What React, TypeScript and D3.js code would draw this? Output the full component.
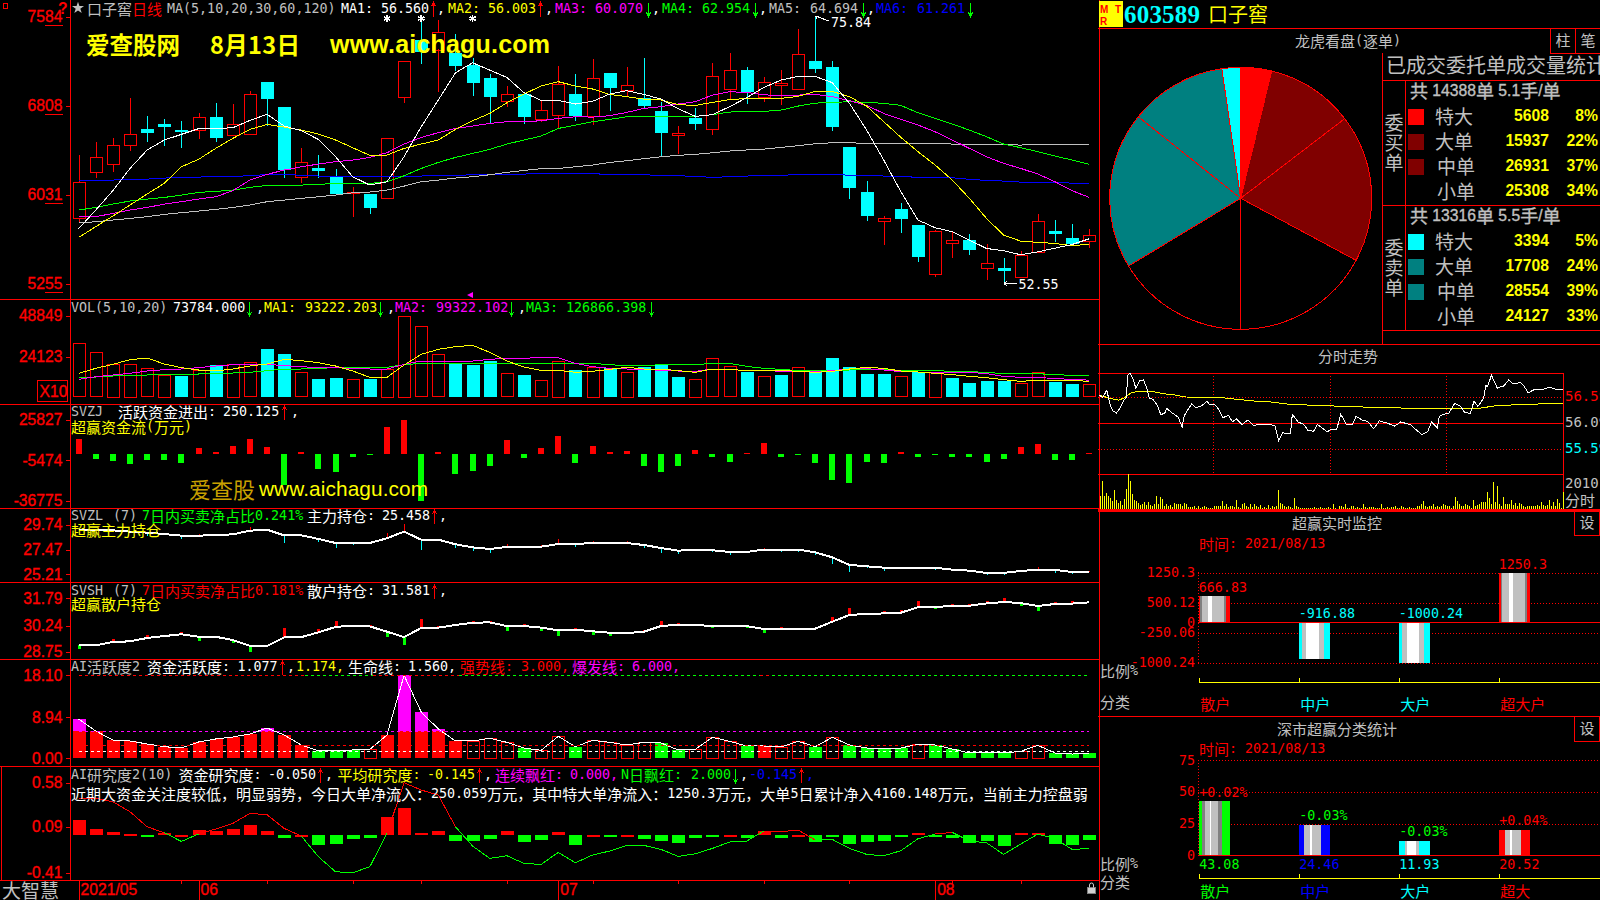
import React from "react";
import * as d3 from "d3";

const opens = [58.24,62.23,62.95,64.61,66.04,66.47,65.92,65.92,67.08,65.45,65.57,70.14,67.96,61.82,62.63,61.96,60.42,60.37,59.99,68.80,73.80,72.99,72.64,71.62,70.49,68.51,69.09,66.91,67.29,69.09,67.11,70.92,69.44,68.77,67.61,65.45,67.00,66.01,69.50,71.18,68.80,69.85,69.50,71.97,71.44,64.47,60.54,57.98,59.05,57.66,53.41,56.12,56.35,53.85,53.91,53.07,55.25,57.14,56.53,56.24];
const closes = [61.38,63.56,64.61,65.57,65.72,66.24,65.86,67.05,65.28,66.44,69.06,68.68,62.49,63.13,62.40,60.37,60.51,59.17,65.22,71.94,72.78,74.53,71.56,70.08,68.86,69.12,67.11,67.66,69.96,67.20,70.46,69.64,69.85,68.07,65.72,65.66,66.47,70.63,71.15,69.23,70.11,70.02,72.55,71.27,66.21,60.89,58.45,58.24,58.21,54.87,57.14,56.35,55.48,54.32,53.68,55.01,57.98,56.90,56.00,56.76];
const highs = [63.77,64.87,65.22,68.74,67.17,66.91,66.73,67.43,68.28,68.22,69.32,70.14,67.96,64.38,63.77,62.55,60.98,60.37,65.22,71.94,75.69,75.55,74.32,72.20,70.83,69.79,69.09,68.51,71.56,70.83,72.11,70.92,71.44,72.20,68.39,66.30,67.87,71.77,72.67,71.42,70.57,71.18,74.73,75.84,71.97,64.47,61.47,58.45,59.55,57.66,57.23,57.08,56.87,56.00,54.78,55.36,58.59,58.10,57.75,57.31];
const lows = [57.95,61.79,62.31,64.12,64.90,64.58,64.41,65.19,64.93,65.40,65.54,66.30,61.79,61.33,61.79,60.25,58.36,58.65,59.99,68.33,71.74,69.29,71.07,68.91,66.44,67.99,66.50,66.68,66.09,66.76,66.38,67.61,68.91,67.75,63.56,63.85,65.95,65.51,68.62,68.22,68.42,68.13,69.50,70.92,65.89,59.93,58.01,55.92,56.96,54.43,53.12,54.78,55.04,52.89,52.55,53.07,55.19,56.18,55.92,55.65];

const ma1 = [57.34,58.97,60.66,62.60,64.21,65.08,65.57,66.07,66.09,66.15,66.79,67.32,66.30,65.89,65.13,63.62,61.88,61.15,61.44,63.62,66.24,68.57,70.95,71.82,71.18,70.54,69.21,68.54,68.54,68.22,68.45,69.09,69.38,69.06,68.65,67.81,67.14,67.29,67.99,68.77,69.67,70.31,70.63,70.63,70.08,68.28,65.95,63.33,60.57,58.10,57.43,57.08,56.35,55.62,55.42,55.07,55.33,55.65,55.97,56.47];
const ma2 = [56.58,57.52,58.45,59.41,60.37,61.30,62.75,63.39,64.35,65.22,66.01,66.44,66.21,65.95,65.60,65.08,64.41,63.74,63.77,64.35,64.73,65.08,66.01,66.76,67.40,68.33,69.09,69.79,70.17,69.79,69.53,69.06,68.86,68.65,68.57,68.16,68.10,68.36,68.60,68.71,68.71,68.71,68.89,69.32,69.32,68.86,68.04,66.68,65.31,64.06,62.90,61.59,59.99,58.24,56.79,56.26,56.15,56.06,55.86,56.00];
const ma3 = [58.39,58.39,58.68,58.97,59.20,59.49,59.70,59.93,60.13,60.66,61.59,62.08,62.46,62.75,62.98,63.19,63.33,63.56,63.97,64.73,65.31,65.72,66.09,66.30,66.53,66.68,66.68,66.76,66.97,67.11,67.08,67.20,67.49,67.84,67.99,68.22,68.42,69.00,69.29,69.23,69.03,68.94,69.00,69.06,68.86,68.51,68.10,67.40,66.88,66.39,65.80,65.08,64.35,63.62,63.04,62.60,62.11,61.44,60.66,60.07];
const ma4 = [58.97,59.20,59.49,59.76,59.93,60.07,60.28,60.51,60.60,60.71,60.95,61.12,61.12,61.15,61.21,61.30,61.30,61.30,61.44,61.96,62.60,63.13,63.56,63.91,64.26,64.73,65.08,65.43,66.09,66.38,66.68,66.88,67.11,67.14,67.14,67.14,67.14,67.29,67.52,67.58,67.58,67.69,68.04,68.30,68.36,68.42,68.36,68.28,68.10,67.46,66.97,66.47,65.95,65.37,64.73,64.41,64.06,63.68,63.33,62.95];
const ma5 = [57.86,57.95,58.10,58.24,58.39,58.59,58.74,58.88,59.03,59.20,59.41,59.70,59.84,59.99,60.13,60.28,60.48,60.54,60.71,61.06,61.44,61.59,61.76,61.88,62.05,62.26,62.43,62.58,62.60,62.75,62.90,63.13,63.27,63.45,63.62,63.74,63.83,63.97,64.12,64.21,64.29,64.44,64.58,64.76,64.84,64.84,64.79,64.76,64.76,64.76,64.76,64.73,64.70,64.67,64.67,64.64,64.70,64.70,64.70,64.69];
const ma6 = [61.56,61.56,61.59,61.65,61.67,61.76,61.82,61.85,61.88,61.91,61.96,62.08,62.11,61.99,61.94,61.94,61.88,61.91,61.88,61.88,61.94,61.99,61.99,62.05,62.05,62.08,62.11,62.17,62.20,62.20,62.14,62.08,62.08,62.05,61.99,61.96,61.91,61.82,61.88,61.94,61.96,61.99,62.08,62.08,62.05,62.02,62.02,61.94,61.91,61.82,61.82,61.79,61.65,61.56,61.50,61.41,61.35,61.38,61.32,61.26];

const volumes = [32160,26733,19698,19698,17085,13065,12462,16080,18894,19698,20703,28743,25728,14673,10653,11256,10653,10854,16683,48843,42411,25527,20502,19296,21708,14070,13065,9849,21507,16080,18090,17085,14874,18090,19497,11859,10653,23115,18291,14874,12261,13065,17688,14874,23316,17889,13668,13668,12261,14874,15075,11256,8241,9447,9447,8040,14673,8844,7638,7378];
const volumeKinds = "rrrrrrcrcrrccrccrcrrrrcccrcrrcrcrcccrrrcrcrcccccrcrccccrrccr";
const volMa1 = [14070,17085,19497,22311,23316,19698,17487,16080,15477,16683,18492,19698,22512,21708,20502,18492,15477,11658,11658,19095,25527,28542,30150,30954,26733,21507,17889,15879,15879,14673,15276,16482,17688,16683,16683,15678,14673,16683,16281,15879,16080,15879,15276,14673,15276,16683,17688,17085,15477,14874,14070,13266,12261,11457,10251,9246,9849,9849,9648,9322];
const volMa2 = [10452,12060,13065,14070,15477,16281,16683,17487,18492,19296,19095,19497,18693,18090,17487,17487,17085,16683,16683,19497,21507,21306,21105,21507,22512,23115,23115,23718,23517,20100,18090,17085,16683,16482,15879,15477,15276,16683,16281,15879,15879,15276,15477,15075,15678,16683,16884,16080,15075,14874,14673,14673,14673,13869,12261,11658,11658,10854,10452,9932];
const volMa3 = [11658,11859,12462,12864,13065,13467,13668,13668,14070,14271,14673,15678,16683,16683,17085,17487,17688,17688,17688,19296,20100,20100,20301,20100,20100,20100,20100,20100,20100,20100,20100,19296,18693,18693,19296,19296,19296,20100,20100,18291,17085,16482,15678,15678,15678,16080,16281,16482,15678,15678,15678,15276,15075,14673,13869,13869,13869,13266,12864,12687];

const flowValues = [11330,-4450,-6000,-8330,-5225,-5225,-7555,4090,985,5640,11070,4860,-24630,985,-12210,-14540,-2900,-1345,20385,25827,-36775,985,-16090,-13760,-9880,10300,-3670,4090,13400,-7555,5640,985,1760,-9880,-14540,-9880,2535,-2900,-6780,205,7970,-2900,-1345,-7555,-20750,-23080,-6780,-7555,985,-2900,-1345,-2900,-2900,-6780,-4450,4860,7190,-5225,-5225,205];
const flowBase = -830;

const mainHold = [29.28,29.28,29.25,29.13,29.04,28.91,28.76,28.76,28.82,28.88,29.22,29.31,28.79,28.79,28.46,28.09,28.09,28.09,28.52,29.13,28.39,28.39,27.97,27.69,27.54,27.72,27.75,27.75,27.99,27.99,28.09,28.09,28.09,27.90,27.63,27.38,27.48,27.42,27.26,27.26,27.48,27.48,27.48,27.23,26.77,26.07,25.95,25.82,25.82,25.82,25.82,25.64,25.55,25.34,25.34,25.52,25.64,25.61,25.43,25.46];
const mainTip = [29.28,29.28,29.37,29.13,28.76,28.91,28.46,28.88,28.82,29.01,29.56,29.31,28.12,28.88,28.15,27.66,27.90,28.09,29.04,29.83,27.48,28.39,27.66,27.38,27.20,28.03,27.60,27.90,28.46,27.75,28.27,28.18,28.27,27.63,27.20,27.08,27.57,27.29,27.02,27.32,27.66,27.29,27.29,26.99,26.16,25.46,25.82,25.55,25.92,25.67,25.64,25.55,25.46,25.15,25.15,25.61,25.92,25.36,25.24,25.52];

const retailHold = [29.11,29.11,29.30,29.34,29.53,29.64,29.74,29.60,29.60,29.41,29.09,29.07,29.56,29.58,29.85,30.16,30.23,30.19,29.89,29.58,30.10,30.12,30.27,30.40,30.42,30.21,30.21,30.12,29.97,30.00,29.91,29.83,29.81,29.89,30.21,30.29,30.27,30.21,30.23,30.21,30.04,30.04,30.04,30.06,30.46,30.84,30.90,30.93,30.97,31.28,31.30,31.35,31.37,31.50,31.58,31.52,31.35,31.47,31.49,31.56];
const retailTip = [28.92,29.07,29.47,29.40,29.70,29.70,29.87,29.38,29.53,29.26,28.73,29.13,30.10,29.66,30.04,30.50,30.27,30.25,29.58,29.15,30.61,30.19,30.33,30.52,30.50,29.95,30.31,29.95,29.66,30.10,29.72,29.66,29.83,29.96,30.50,30.38,30.19,30.10,30.29,30.10,29.81,30.15,29.98,30.12,30.73,31.24,30.97,31.07,31.10,31.64,31.20,31.47,31.47,31.64,31.81,31.35,31.07,31.58,31.64,31.58];

const activeValues = [8.58,5.96,4.00,3.78,3.13,2.54,2.25,3.56,4.22,4.65,5.31,6.61,5.09,2.91,1.60,1.60,1.82,1.96,5.09,18.10,10.10,6.40,3.78,3.78,4.36,3.49,2.25,1.74,4.80,2.54,3.92,3.49,2.91,3.49,3.34,1.82,1.96,4.58,3.71,2.69,2.69,2.47,3.71,2.54,4.58,2.91,2.25,2.25,2.25,3.05,2.91,2.03,1.16,1.38,1.16,1.53,2.83,1.16,0.94,1.08];
const activeKindList = ["r","r","r","r","r","r","r","r","r","r","r","r","r","r","g","g","g","h","r","r","r","r","r","h","h","h","g","h","h","g","h","h","h","h","g","g","h","h","h","g","r","h","h","g","h","g","g","g","g","h","g","g","g","g","g","h","h","g","g","g"];
const strongLineRuns: [number, number, string][] = [[0,13.2,"#ff0000"],[13.2,17.2,"#00ff00"],[17.2,22.2,"#ff0000"],[22.2,39.8,"#00ff00"],[39.8,40.5,"#ff0000"],[40.5,59,"#00ff00"]];

const studyBars = [0.169,0.070,0.037,0.015,-0.018,0.026,0.002,0.059,0.051,0.070,0.114,0.048,-0.029,0.002,-0.106,-0.095,-0.040,-0.029,0.202,0.301,0.026,0.048,-0.062,-0.062,-0.040,0.048,-0.073,-0.051,0.037,-0.106,0.002,-0.018,0.002,-0.040,-0.062,-0.084,-0.029,-0.018,0.002,-0.029,0.048,-0.029,0.002,-0.073,-0.018,-0.095,-0.073,-0.062,-0.018,0.026,-0.018,-0.029,-0.084,-0.062,-0.117,0.026,0.026,-0.095,-0.106,-0.050];
const studyLine = [0.407,0.407,0.370,0.260,0.095,0.029,-0.066,0.015,0.070,0.132,0.242,0.227,0.077,-0.007,-0.235,-0.400,-0.411,-0.345,0.022,0.579,0.499,0.444,0.095,-0.117,-0.253,-0.224,-0.308,-0.319,-0.187,-0.301,-0.216,-0.172,-0.110,-0.110,-0.154,-0.231,-0.202,-0.143,-0.073,-0.062,0.048,0.040,0.059,-0.051,-0.044,-0.143,-0.209,-0.224,-0.169,-0.037,0.015,0.033,-0.062,-0.081,-0.209,-0.095,0.015,-0.037,-0.154,-0.145];

const priceTicks: [number, string][] = [[75.84,"7584"],[68.08,"6808"],[60.31,"6031"],[52.55,"5255"]];
const volTicks: [number, string][] = [[48849,"48849"],[24123,"24123"]];
const flowTicks: [number, string][] = [[25827,"25827"],[-5474,"-5474"],[-36775,"-36775"]];
const mainTicks: [number, string][] = [[29.74,"29.74"],[27.47,"27.47"],[25.21,"25.21"]];
const retailTicks: [number, string][] = [[31.79,"31.79"],[30.24,"30.24"],[28.75,"28.75"]];
const activeTicks: [number, string][] = [[18.10,"18.10"],[8.94,"8.94"],[0,"0.00"]];
const studyTicks: [number, string][] = [[0.58,"0.58"],[0.09,"0.09"],[-0.41,"-0.41"]];

const dateLabels: [number, string][] = [[0,"2021/05"],[7,"06"],[28,"07"],[50,"08"]];
const minorDateTicks = [6,11,16,20,25,30,35,40,45,51,55];
const starCandles = [18,20,23];

const buyOrders = [5608,15937,26931,25308];
const sellOrders = [3394,17708,28554,24127];
const buyPct = ["8%","22%","37%","34%"];
const sellPct = ["5%","24%","39%","33%"];
const orderLabels = ["特大","大单","中单","小单"];
const buyColors = ["#ff0000","#800000","#800000","#000000"];
const sellColors = ["#00ffff","#008080","#008080","#000000"];

const minuteTimes = [0,2,4,6,7,9,11,13,14,15,16,18,19,21,23,25,26,28,30,32,34,35,37,38,41,43,44,46,48,50,53,56,57,60,62,64,67,69,71,74,77,80,83,86,88,91,93,95,99,100,103,106,108,111,113,118,120,123,125,128,131,133,136,139,142,145,149,153,156,161,164,167,170,172,175,176,180,181,184,187,189,192,194,196,199,200,201,203,206,207,209,212,214,218,220,222,225,229,233,236,240];
const minutePrices = [56.63,56.58,56.72,56.41,56.33,56.28,56.38,56.54,56.57,57.02,57.05,56.90,56.76,56.90,56.92,56.73,56.57,56.54,56.44,56.25,56.28,56.37,56.31,56.28,56.20,56.01,56.22,56.35,56.46,56.38,56.42,56.51,56.45,56.44,56.35,56.19,56.24,56.11,56.17,56.06,56.15,56.04,56.07,56.06,56.07,56.03,55.75,55.90,55.88,56.26,56.11,56.06,55.95,55.93,56.06,55.92,55.97,55.97,56.26,56.06,56.06,56.22,56.15,56.12,55.98,56.13,56.09,56.03,56.11,56.06,55.96,55.87,55.92,56.11,56.00,56.22,56.28,56.28,56.47,56.41,56.30,56.27,56.51,56.41,56.57,56.81,56.79,57.01,56.76,56.78,56.79,56.92,56.84,56.87,56.79,56.67,56.73,56.73,56.78,56.74,56.74];
const avgTimes = [0,5,10,13,17,22,27,34,39,45,58,63,70,81,91,95,105,119,134,155,168,181,196,205,220,234,240];
const avgPrices = [56.63,56.57,56.53,56.57,56.68,56.70,56.70,56.65,56.63,56.59,56.58,56.58,56.55,56.51,56.49,56.46,56.44,56.42,56.40,56.38,56.36,56.36,56.37,56.42,56.45,56.46,56.47];
const minuteVolumes = [800,1700,800,960,800,660,500,1140,540,360,500,240,600,1200,2100,1700,900,560,500,360,240,300,400,240,440,240,200,320,760,300,700,600,200,280,200,240,120,360,280,300,320,200,360,280,100,100,100,160,80,160,60,120,160,100,80,60,40,160,160,160,200,480,160,280,120,160,160,100,560,100,60,320,360,160,120,280,120,320,160,120,240,80,120,40,240,80,160,120,160,1120,360,280,200,120,160,120,40,680,200,120,40,40,60,40,60,60,40,100,40,60,100,40,80,80,120,40,280,40,20,160,160,120,280,40,80,160,160,80,120,80,40,320,120,40,120,120,120,80,80,40,320,80,40,120,40,120,100,160,80,40,160,100,40,40,120,80,40,80,160,200,280,480,160,120,160,160,280,120,160,120,160,280,240,160,160,80,160,720,480,280,160,160,280,240,160,80,560,200,240,280,400,440,400,1040,640,320,1600,440,1360,320,160,720,280,280,320,560,240,360,160,360,320,200,120,200,160,160,160,160,240,160,440,240,160,240,560,160,440,160,600,360,40,1000];

const monitorCats = ["散户","中户","大户","超大户"];
const monitorValues = [666.83,-916.88,-1000.24,1250.3];
const monitorLabels = ["666.83","-916.88","-1000.24","1250.3"];
const monitorColors = ["#ff0000","#00ffff","#00ffff","#ff0000"];
const monitorTicks: [number, string][] = [[1250.3,"1250.3"],[500.12,"500.12"],[0,"0"],[-250.06,"-250.06"],[-1000.24,"-1000.24"]];
const monitorStripes: [string, number][][] = [
  [["#ff0000",1],["#808080",2],["#c0c0c0",6],["#ffffff",4],["#c0c0c0",12],["#808080",2],["#ff0000",3]],
  [["#00ffff",3],["#c0c0c0",4],["#ffffff",13],["#c0c0c0",5],["#00ffff",5]],
  [["#00ffff",3],["#c0c0c0",5],["#ffffff",12],["#c0c0c0",5],["#00ffff",5]],
  [["#ff0000",1.5],["#808080",1.5],["#c0c0c0",7],["#ffffff",4],["#c0c0c0",12],["#808080",2],["#ff0000",2]],
];

const shareCats = ["散户","中户","大户","超大"];
const shareValues = [43.08,24.46,11.93,20.52];
const shareChange = ["+0.02%","-0.03%","-0.03%","+0.04%"];
const shareChangeColors = ["#ff0000","#00ff00","#00ff00","#ff0000"];
const shareColors = ["#00ff00","#0000ff","#00ffff","#ff0000"];
const shareTicks = [75,50,25,0];
const shareStripes: [string, number][][] = [
  [["#00ff00",3],["#808080",3],["#c0c0c0",4.5],["#ffffff",1.5],["#c0c0c0",6.5],["#808080",4.5],["#00ff00",7]],
  [["#0000ff",5],["#c0c0c0",6],["#ffffff",2],["#c0c0c0",9],["#0000ff",8]],
  [["#00ffff",6],["#c0c0c0",2],["#ffffff",9],["#c0c0c0",3],["#00ffff",10]],
  [["#ff0000",5.3],["#c0c0c0",5.7],["#ffffff",2],["#c0c0c0",8.3],["#ff0000",8.7]],
];

const RED = "#ff0000", CYAN = "#00ffff", GREEN = "#00ff00", YELLOW = "#ffff00", MAGENTA = "#ff00ff", BLUE = "#0000ff", GRAY = "#c0c0c0", WHITE = "#ffffff";
const CJK = '"Noto Sans CJK SC"';
const MONO = '"DejaVu Sans Mono"';
const SANS = '"Liberation Sans"';

const isCJK = (c: string) => /[\u2e80-\uffef]/.test(c);
function runs(text: string) {
  const out: { t: string; cjk: boolean }[] = [];
  for (const c of text) {
    const k = isCJK(c);
    if (out.length && out[out.length - 1].cjk === k) out[out.length - 1].t += c;
    else out.push({ t: c, cjk: k });
  }
  return out;
}

function T({ x, y, text, fill = GRAY, size = 15, latin = 13.33, anchor = "start", family = MONO, weight = 400, heavy = false }: any) {
  const stroke = heavy ? { stroke: fill, strokeWidth: 0.35 } : {};
  return (
    <text x={x} y={y - 1.7} fill={fill} textAnchor={anchor} dominantBaseline="central" fontSize={size} fontFamily={CJK} style={{ whiteSpace: "pre" }} {...stroke}>
      {runs(text).map((r, i) => r.cjk
        ? <tspan key={i} fontFamily={CJK} fontSize={size}>{r.t}</tspan>
        : <tspan key={i} fontFamily={family} fontWeight={weight} fontSize={latin}>{r.t}</tspan>)}
    </text>
  );
}

const crisp = { shapeRendering: "crispEdges" as const };
const H = ({ x1, x2, y, c = RED, w = 1, dash }: any) => <line x1={x1} x2={x2} y1={y} y2={y} stroke={c} strokeWidth={w} strokeDasharray={dash} {...crisp} />;
const V = ({ x, y1, y2, c = RED, w = 1, dash }: any) => <line x1={x} x2={x} y1={y1} y2={y2} stroke={c} strokeWidth={w} strokeDasharray={dash} {...crisp} />;

const Arrow = ({ x, y, up, c }: { x: number; y: number; up: boolean; c: string }) => {
  const cx = Math.round(x) + 0.5;
  const tip = up ? y - 7 : y + 7;
  const back = up ? tip + 4 : tip - 4;
  return <path d={`M${cx},${y - 7} V${y + 7} M${cx - 2},${back} L${cx},${tip} L${cx + 2},${back}`} fill="none" stroke={c} {...crisp} />;
};

type Piece = [number, string, string];
const Row = ({ y, pieces }: { y: number; pieces: Piece[] }) => (
  <>{pieces.map((p, i) => (p[1] === "↑" || p[1] === "↓")
    ? <Arrow key={i} x={p[0] + 3} y={y} up={p[1] === "↑"} c={p[2]} />
    : <T key={i} x={p[0]} y={y} text={p[1]} fill={p[2]} />)}</>
);

const idx = d3.range(60);
const xs = d3.scaleLinear().domain([0, 59]).range([78.6, 1089.3]);
const yPrice = d3.scaleLinear().domain([52.55, 75.84]).range([283.67, 16.67]);
const yVol = d3.scaleLinear().domain([0, 48849]).range([396.67, 315.67]);
const yFlow = d3.scaleLinear().domain([-36775, 25827]).range([500.67, 420]);
const yMain = d3.scaleLinear().domain([25.21, 29.74]).range([574.33, 525]);
const yRetail = d3.scaleLinear().domain([28.75, 31.79]).range([651.67, 598.33]);
const yActive = d3.scaleLinear().domain([0, 18.1]).range([758.33, 675.33]);
const yStudy = d3.scaleLinear().domain([-0.41, 0.58]).range([872.67, 782.67]);

const seriesPath = (vals: number[], y: any) =>
  d3.line<number>().x((_, i) => xs(i)).y((v) => y(v))(vals) as string;

const AxisLabels = ({ ticks, y, underline }: { ticks: [number, string][]; y: any; underline?: boolean }) => (
  <>
    {ticks.map(([v, s], i) => (
      <g key={i}>
        <T x={62.5} y={y(v) + 0.9} text={s} fill={RED} latin={15.7} anchor="end" family={SANS} heavy />
        <H x1={66} x2={70} y={Math.round(y(v)) + 0.5} />
        {underline && <H x1={45} x2={62.5} y={Math.round(y(v)) + 8.5} />}
      </g>
    ))}
  </>
);

const Stripes = ({ x, y0, y1, stripes }: { x: number; y0: number; y1: number; stripes: [string, number][] }) => {
  let cur = x;
  return (
    <>
      {stripes.map(([c, w], i) => {
        const r = <rect key={i} x={cur} y={Math.min(y0, y1)} width={w + 0.2} height={Math.abs(y1 - y0)} fill={c} {...crisp} />;
        cur += w;
        return r;
      })}
    </>
  );
};

function MainChart() {
  const maLines: [number[], string][] = [[ma6, BLUE], [ma5, GRAY], [ma4, GREEN], [ma3, MAGENTA], [ma2, YELLOW], [ma1, WHITE]];
  return (
    <g>
      {idx.map((i) => {
        const up = closes[i] >= opens[i];
        const x = xs(i);
        const top = yPrice(Math.max(opens[i], closes[i]));
        const bot = yPrice(Math.min(opens[i], closes[i]));
        const cx = Math.round(x) + 0.5;
        if (up) {
          return (
            <g key={i}>
              <V x={cx} y1={yPrice(highs[i])} y2={top} />
              <V x={cx} y1={bot} y2={yPrice(lows[i])} />
              <rect x={cx - 6} y={Math.round(top) + 0.5} width={12} height={Math.max(1, Math.round(bot - top))} fill="none" stroke={RED} {...crisp} />
            </g>
          );
        }
        return (
          <g key={i}>
            <V x={cx} y1={yPrice(highs[i])} y2={yPrice(lows[i])} c={CYAN} />
            <rect x={cx - 6.5} y={top} width={13} height={Math.max(1.5, bot - top)} fill={CYAN} {...crisp} />
          </g>
        );
      })}
      {maLines.map(([vals, c], i) => <path key={i} d={seriesPath(vals, yPrice)} fill="none" stroke={c} {...crisp} />)}
      {starCandles.map((i) => (
        <path key={i} transform={`translate(${xs(i)},18.5)`} d={d3.symbol(d3.symbolAsterisk, 36)() as string} stroke={WHITE} strokeWidth={1.6} fill="none" {...crisp} />
      ))}
      <path d={`M${xs(43)},16 L829,21 M${xs(43)},16 l4,0 M${xs(43)},16 l2,3`} stroke={WHITE} fill="none" {...crisp} />
      <T x={831} y={23.5} text="75.84" fill={WHITE} />
      <path d={`M${xs(54)},283.5 H1017 M${xs(54)},283.5 l3,-2 M${xs(54)},283.5 l3,2`} stroke={WHITE} fill="none" {...crisp} />
      <T x={1018.5} y={285.5} text="52.55" fill={WHITE} />
      <path d="M467,295 L473,292 L473,298 Z" fill={MAGENTA} />
      <AxisLabels ticks={priceTicks} y={yPrice} underline />
      <text x={86} y={44} dominantBaseline="central" fontFamily={CJK} fontWeight={700} fontSize={23.5} fill={YELLOW}>爱查股网</text>
      <text x={210} y={44} dominantBaseline="central" fontFamily={CJK} fontWeight={700} fontSize={23.5} fill={YELLOW} textLength={90}>8月13日</text>
      <text x={330} y={44} dominantBaseline="central" fontFamily={SANS} fontWeight={700} fontSize={25} fill={YELLOW} textLength={220}>www.aichagu.com</text>
    </g>
  );
}

function VolumePanel() {
  return (
    <g>
      {idx.map((i) => {
        const x = Math.round(xs(i)) + 0.5;
        const t = yVol(volumes[i]), b = yVol(0);
        return volumeKinds[i] === "r"
          ? <rect key={i} x={x - 6} y={Math.round(t) + 0.5} width={12} height={Math.round(b - t)} fill="none" stroke={RED} {...crisp} />
          : <rect key={i} x={x - 6.5} y={t} width={13} height={b - t + 0.5} fill={CYAN} {...crisp} />;
      })}
      {([[volMa3, GREEN], [volMa2, MAGENTA], [volMa1, YELLOW]] as [number[], string][]).map(([v, c], i) => (
        <path key={i} d={seriesPath(v, yVol)} fill="none" stroke={c} {...crisp} />
      ))}
      <AxisLabels ticks={volTicks} y={yVol} />
      <rect x={37.5} y={380.5} width={30} height={21} fill="none" stroke={RED} {...crisp} />
      <T x={39.5} y={392.5} text="X10" fill={RED} latin={15.7} family={SANS} heavy />
    </g>
  );
}

function FlowPanel() {
  return (
    <g>
      {idx.map((i) => {
        const v = flowValues[i];
        const a = yFlow(v), b = yFlow(flowBase);
        return <rect key={i} x={Math.round(xs(i)) - 3} y={Math.min(a, b)} width={6} height={Math.max(1, Math.abs(a - b))} fill={v >= flowBase ? RED : GREEN} {...crisp} />;
      })}
      <AxisLabels ticks={flowTicks} y={yFlow} />
      <text x={189} y={488} dominantBaseline="central" fontFamily={CJK} fontSize={22} fill="#c8a000">爱查股</text>
      <text x={259} y={488} dominantBaseline="central" fontFamily={SANS} fontSize={20.8} fill={YELLOW} textLength={169}>www.aichagu.com</text>
    </g>
  );
}

function HoldPanel({ line, tip, y, upColor, downColor, stick, ticks }: any) {
  return (
    <g>
      {idx.map((i) => {
        if (tip[i] === line[i]) return null;
        const a = y(tip[i]), b = y(line[i]);
        return <rect key={i} x={Math.round(xs(i)) - stick / 2 + (stick === 1 ? 0.5 : 0)} y={Math.min(a, b)} width={stick} height={Math.abs(a - b)} fill={tip[i] > line[i] ? upColor : downColor} {...crisp} />;
      })}
      <path d={seriesPath(line, y)} fill="none" stroke={WHITE} strokeWidth={2} {...crisp} />
      <AxisLabels ticks={ticks} y={y} />
    </g>
  );
}

function ActivePanel() {
  const base = yActive(0);
  return (
    <g>
      {idx.map((i) => {
        const x = Math.round(xs(i)) + 0.5;
        const v = activeValues[i], t = yActive(v), k = activeKindList[i];
        if (k === "h") return <rect key={i} x={x - 6} y={Math.round(t) + 0.5} width={12} height={Math.round(base - t)} fill="none" stroke={RED} {...crisp} />;
        if (k === "g") return <rect key={i} x={x - 6.5} y={t} width={13} height={base - t} fill={GREEN} {...crisp} />;
        const cap = yActive(Math.min(v, 6));
        return (
          <g key={i}>
            {v > 6 && <rect x={x - 6.5} y={t} width={13} height={cap - t} fill={MAGENTA} {...crisp} />}
            <rect x={x - 6.5} y={cap} width={13} height={base - cap} fill={RED} {...crisp} />
          </g>
        );
      })}
      <path d={seriesPath(activeValues, yActive)} fill="none" stroke={WHITE} {...crisp} />
      <H x1={xs(0)} x2={xs(59)} y={Math.round(yActive(1.56)) + 0.5} c={WHITE} dash="3 3" />
      <H x1={xs(0)} x2={xs(59)} y={Math.round(yActive(2.85)) + 0.5} c={RED} dash="3 3" />
      <H x1={xs(0)} x2={xs(59)} y={Math.round(yActive(6)) + 0.5} c={MAGENTA} dash="3 3" />
      {strongLineRuns.map(([a, b, c], i) => <H key={i} x1={xs(a)} x2={xs(b)} y={Math.round(yActive(18.1)) + 0.5} c={c} dash="3 3" />)}
      <AxisLabels ticks={activeTicks} y={yActive} />
    </g>
  );
}

function StudyPanel() {
  const zero = yStudy(0);
  return (
    <g>
      {idx.map((i) => {
        const v = studyBars[i], a = yStudy(v);
        return <rect key={i} x={Math.round(xs(i)) - 6} y={Math.min(a, zero)} width={13} height={Math.max(1.5, Math.abs(a - zero))} fill={v >= 0 ? RED : GREEN} {...crisp} />;
      })}
      {d3.range(59).map((i) => {
        const m = (studyLine[i] + studyLine[i + 1]) / 2;
        return <line key={i} x1={xs(i)} x2={xs(i + 1)} y1={yStudy(studyLine[i])} y2={yStudy(studyLine[i + 1])} stroke={m >= 0 ? RED : GREEN} {...crisp} />;
      })}
      <AxisLabels ticks={studyTicks} y={yStudy} />
    </g>
  );
}

const LeftHeaders = () => (
  <>
    <rect x={3.5} y={3.5} width={4} height={5} fill="none" stroke={RED} {...crisp} />
    <T x={58} y={10} text="?" fill={RED} latin={15.7} family={SANS} weight={700} />
    <path transform="translate(78,8)" d={d3.symbol(d3.symbolStar, 45)() as string} fill={GRAY} />
    <Row y={9.5} pieces={[
      [87,"口子窖",GRAY],[132,"日线",RED],[167,"MA(5,10,20,30,60,120)",GRAY],
      [341,"MA1:",WHITE],[381,"56.560",WHITE],[430,"↑",RED],[437,",",WHITE],
      [448,"MA2:",YELLOW],[488,"56.003",YELLOW],[537,"↑",RED],[545,",",WHITE],
      [555,"MA3:",MAGENTA],[595,"60.070",MAGENTA],[645,"↓",GREEN],[652,",",WHITE],
      [662,"MA4:",GREEN],[702,"62.954",GREEN],[752,"↓",GREEN],[759,",",WHITE],
      [769,"MA5:",GRAY],[810,"64.694",GRAY],[860,"↓",GREEN],[867,",",WHITE],
      [876,"MA6:",BLUE],[917,"61.261",BLUE],[967,"↓",GREEN],
    ]} />
    <Row y={309} pieces={[
      [71,"VOL(5,10,20)",GRAY],[173,"73784.000",WHITE],[246,"↓",GREEN],[256,",",WHITE],
      [264,"MA1:",YELLOW],[305,"93222.203",YELLOW],[377,"↓",GREEN],[387,",",WHITE],
      [395,"MA2:",MAGENTA],[436,"99322.102",MAGENTA],[508,"↓",GREEN],[518,",",WHITE],
      [526,"MA3:",GREEN],[566,"126866.398",GREEN],[648,"↓",GREEN],
    ]} />
    <Row y={413} pieces={[[71,"SVZJ",GRAY],[118,"活跃资金进出:",WHITE],[223,"250.125",WHITE],[281,"↑",RED],[291,",",WHITE]]} />
    <Row y={428} pieces={[[71,"超赢资金流(万元)",YELLOW]]} />
    <Row y={517} pieces={[[71,"SVZL",GRAY],[113,"(7)",GRAY],[142,"7日内买卖净占比0.241%",GREEN],[307,"主力持仓:",WHITE],[382,"25.458",WHITE],[431,"↑",RED],[439,",",WHITE]]} />
    <Row y={531} pieces={[[71,"超赢主力持仓",YELLOW]]} />
    <Row y={592} pieces={[[71,"SVSH",GRAY],[113,"(7)",GRAY],[142,"7日内买卖净占比0.181%",RED],[307,"散户持仓:",WHITE],[382,"31.581",WHITE],[431,"↑",RED],[439,",",WHITE]]} />
    <Row y={605} pieces={[[71,"超赢散户持仓",YELLOW]]} />
    <Row y={668} pieces={[
      [71,"AI活跃度2",GRAY],[147,"资金活跃度:",WHITE],[237.5,"1.077",WHITE],[279,"↑",RED],[287,",",WHITE],
      [296,"1.174,",YELLOW],[348,"生命线:",WHITE],[408,"1.560,",WHITE],[460,"强势线:",RED],[521,"3.000,",RED],
      [572,"爆发线:",MAGENTA],[632,"6.000,",MAGENTA],
    ]} />
    <Row y={776} pieces={[
      [71,"AI研究度2(10)",GRAY],[178.6,"资金研究度:",WHITE],[268,"-0.050",WHITE],[317,"↑",RED],[325,",",WHITE],
      [337.5,"平均研究度:",YELLOW],[427,"-0.145",YELLOW],[476,"↑",RED],[484,",",WHITE],
      [495,"连续飘红:",MAGENTA],[570,"0.000,",MAGENTA],[621,"N日飘红:",GREEN],[691,"2.000",GREEN],[732,"↓",GREEN],[740,",",WHITE],
      [749,"-0.145",BLUE],[798,"↑",RED],[806,",",BLUE],
    ]} />
    <Row y={795} pieces={[[71,"近期大资金关注度较低，明显弱势，今日大单净流入：250.059万元，其中特大单净流入：1250.3万元，大单5日累计净入4160.148万元，当前主力控盘弱",WHITE]]} />
  </>
);

const DateRow = () => (
  <>
    {dateLabels.map(([i, s]) => (
      <g key={s}>
        <V x={Math.round(xs(i)) + 0.5} y1={880} y2={900} />
        <T x={xs(i) + 2} y={891} text={s} fill={RED} latin={15.7} family={SANS} heavy />
      </g>
    ))}
    {minorDateTicks.map((i) => <V key={i} x={Math.round(xs(i)) + 0.5} y1={880} y2={884} />)}
    <T x={2} y={891} text="大智慧" fill={GRAY} size={19} />
    <rect x={1087.5} y={887.5} width={8} height={6} fill="#d0d0d0" stroke="#808080" {...crisp} />
    <path d="M1089.5,887.5 V885 a2,2 0 0 1 4,0 V887.5" fill="none" stroke="#d0d0d0" />
  </>
);

function OrderPie() {
  const values = [...buyOrders, ...[...sellOrders].reverse()];
  const colors = [...buyColors, ...[...sellColors].reverse()];
  const arcs = d3.pie<number>().sort(null).value((v) => v)(values);
  const arc = d3.arc<any>().innerRadius(0).outerRadius(131);
  return (
    <g transform="translate(1240.7,198.3)">
      {arcs.map((a, i) => <path key={i} d={arc(a) as string} fill={colors[i]} stroke={RED} {...crisp} />)}
    </g>
  );
}

function OrderTable() {
  const rowGroup = (y0: number, header: string, values: number[], pct: string[], colors: string[]) => (
    <g>
      <T x={1410} y={y0} text={header} fill={GRAY} size={18} latin={15.7} family={SANS} heavy />
      {values.map((v, i) => {
        const y = y0 + 24.5 + i * 25;
        return (
          <g key={i}>
            {colors[i] !== "#000000" && <rect x={1408} y={y - 8} width={16} height={16} fill={colors[i]} {...crisp} />}
            <T x={i > 1 ? 1437 : 1435} y={y} text={orderLabels[i]} fill={GRAY} size={19} />
            <T x={1549} y={y} text={String(v)} fill={YELLOW} latin={15.7} anchor="end" family={SANS} weight={700} />
            <T x={1598} y={y} text={pct[i]} fill={YELLOW} latin={15.7} anchor="end" family={SANS} weight={700} />
          </g>
        );
      })}
    </g>
  );
  return (
    <g>
      <V x={1382.5} y1={53} y2={344} />
      <V x={1405.5} y1={80} y2={330} />
      <H x1={1382} x2={1600} y={80.5} />
      <H x1={1382} x2={1600} y={205.5} />
      <H x1={1382} x2={1600} y={330.5} />
      <T x={1386} y={66} text="已成交委托单成交量统计" fill={GRAY} size={20} />
      {["委","买","单"].map((c, i) => <T key={i} x={1394} anchor="middle" y={123 + i * 20} text={c} fill={GRAY} size={19} />)}
      {["委","卖","单"].map((c, i) => <T key={i} x={1394} anchor="middle" y={248 + i * 20} text={c} fill={GRAY} size={19} />)}
      {rowGroup(92, "共 14388单 5.1手/单", buyOrders, buyPct, buyColors)}
      {rowGroup(217, "共 13316单 5.5手/单", sellOrders, sellPct, sellColors)}
    </g>
  );
}

function Intraday() {
  const xm = d3.scaleLinear().domain([0, 240]).range([1099, 1563]);
  const yp = d3.scaleLinear().domain([55.59, 56.59]).range([449, 397]);
  const xv = d3.scaleLinear().domain([0, minuteVolumes.length - 1]).range([1100, 1563]);
  const yv = d3.scaleLinear().domain([0, 2100]).range([509, 474]);
  const line = d3.line<number>().x((_, i) => xm(minuteTimes[i])).y((v) => yp(v));
  const avg = d3.line<number>().x((_, i) => xm(avgTimes[i])).y((v) => yp(v));
  return (
    <g>
      <T x={1348} y={357} text="分时走势" fill={GRAY} anchor="middle" />
      <H x1={1098} x2={1563} y={373.5} />
      <V x={1563.5} y1={373} y2={509} />
      <H x1={1098} x2={1563} y={397.5} dash="1 2" />
      <H x1={1098} x2={1563} y={423.5} />
      <H x1={1098} x2={1563} y={449.5} dash="1 2" />
      <H x1={1098} x2={1563} y={474.5} />
      <H x1={1098} x2={1600} y={509.5} w={2} />
      {[1213.5, 1330.5, 1446.5].map((x) => <V key={x} x={x} y1={373} y2={474} dash="1 2" />)}
      {minuteVolumes.map((v, i) => <V key={i} x={Math.round(xv(i)) + 0.5} y1={yv(v)} y2={509} c={YELLOW} />)}
      <path d={avg(avgPrices) as string} fill="none" stroke={YELLOW} strokeWidth={1} {...crisp} />
      <path d={line(minutePrices) as string} fill="none" stroke={WHITE} {...crisp} />
      <T x={1565} y={398} text="56.59" fill={RED} latin={14} />
      <T x={1565} y={424} text="56.09" fill={GRAY} latin={14} />
      <T x={1565} y={450} text="55.59" fill={CYAN} latin={14} />
      <T x={1565} y={485} text="2010" fill={GRAY} latin={14} />
      <T x={1565} y={501} text="分时" fill={GRAY} />
    </g>
  );
}

const xCat = d3.scalePoint<string>().domain(monitorCats).range([1199.3, 1499.3]);

function Monitor() {
  const y = d3.scaleLinear().domain([-1000.24, 1250.3]).range([662.7, 572.7]);
  return (
    <g>
      <H x1={1098} x2={1600} y={511.5} />
      <T x={1337} y={524} text="超赢实时监控" fill={GRAY} anchor="middle" />
      <rect x={1574.5} y={511.5} width={25} height={24} fill="none" stroke={RED} {...crisp} />
      <T x={1587} y={523} text="设" fill={GRAY} anchor="middle" />
      <T x={1199} y={545} text="时间: 2021/08/13" fill={RED} />
      {monitorTicks.map(([v, s]) => (
        <g key={s}>
          {v !== 0 && <H x1={1198} x2={1600} y={Math.round(y(v)) + 0.5} dash="1 2" />}
          <T x={1195} y={y(v) + 1} text={s} fill={RED} anchor="end" />
        </g>
      ))}
      <V x={1198.5} y1={572} y2={663} dash="1 2" />
      {monitorCats.map((c, i) => (
        <g key={c}>
          <Stripes x={xCat(c) as number} y0={y(0)} y1={y(monitorValues[i])} stripes={monitorStripes[i]} />
          <T x={(xCat(c) as number) - 0.5} y={monitorValues[i] > 0 ? y(monitorValues[i]) - 7 : 615} text={monitorLabels[i]} fill={monitorColors[i]} />
          <T x={(xCat(c) as number) + 1} y={705} text={c} fill={monitorColors[i]} />
          <V x={Math.round(xCat(c) as number) + 0.5} y1={678} y2={682} c={YELLOW} />
        </g>
      ))}
      <H x1={1198} x2={1600} y={622.5} />
      <H x1={1199} x2={1600} y={682.5} c={YELLOW} />
      <T x={1100} y={672} text="比例%" fill={GRAY} />
      <T x={1100} y={703} text="分类" fill={GRAY} />
    </g>
  );
}

function ShareStats() {
  const y = d3.scaleLinear().domain([0, 75]).range([855.7, 760.3]);
  return (
    <g>
      <H x1={1098} x2={1600} y={716.5} />
      <T x={1337} y={730} text="深市超赢分类统计" fill={GRAY} anchor="middle" />
      <rect x={1574.5} y={716.5} width={25} height={25} fill="none" stroke={RED} {...crisp} />
      <T x={1587} y={729} text="设" fill={GRAY} anchor="middle" />
      <T x={1199} y={750} text="时间: 2021/08/13" fill={RED} />
      {shareTicks.map((v) => (
        <g key={v}>
          {v !== 0 && <H x1={1198} x2={1600} y={Math.round(y(v)) + 0.5} dash="1 2" />}
          <T x={1195} y={y(v) + 1} text={String(v)} fill={RED} anchor="end" />
        </g>
      ))}
      <V x={1198.5} y1={760} y2={855} dash="1 2" />
      {shareCats.map((c, i) => {
        const x = xCat(monitorCats[i]) as number;
        return (
          <g key={c}>
            <Stripes x={x} y0={y(0)} y1={y(shareValues[i])} stripes={shareStripes[i]} />
            <T x={x} y={y(shareValues[i]) - 7.5} text={shareChange[i]} fill={shareChangeColors[i]} />
            <T x={x} y={866} text={shareValues[i].toFixed(2)} fill={shareColors[i]} />
            <T x={x + 1} y={892} text={c} fill={shareColors[i]} />
            <V x={Math.round(x) + 0.5} y1={874} y2={878} c={YELLOW} />
          </g>
        );
      })}
      <H x1={1198} x2={1600} y={855.5} />
      <H x1={1199} x2={1600} y={878.5} c={YELLOW} />
      <T x={1100} y={865} text="比例%" fill={GRAY} />
      <T x={1100} y={883} text="分类" fill={GRAY} />
    </g>
  );
}

const Header = () => (
  <>
    <rect x={1099} y={1} width={24} height={26} fill={YELLOW} {...crisp} />
    <text x={1100} y={9} fill={RED} fontSize={10} fontWeight={700} fontFamily={SANS} dominantBaseline="central">M</text>
    <text x={1115} y={9} fill={RED} fontSize={10} fontWeight={700} fontFamily={SANS} dominantBaseline="central">T</text>
    <text x={1100} y={21} fill={RED} fontSize={10} fontWeight={700} fontFamily={SANS} dominantBaseline="central">R</text>
    <text x={1124} y={14} fill={CYAN} fontSize={25} fontWeight={700} fontFamily='"Liberation Serif"' dominantBaseline="central" textLength={76}>603589</text>
    <text x={1208} y={13} fill={YELLOW} fontSize={20} fontFamily={CJK} dominantBaseline="central">口子窖</text>
    <H x1={1098} x2={1600} y={28.5} />
    <T x={1348} y={42} text="龙虎看盘(逐单)" fill={GRAY} anchor="middle" />
    <rect x={1550.5} y={28.5} width={25} height={25} fill="none" stroke={RED} {...crisp} />
    <rect x={1575.5} y={28.5} width={25} height={25} fill="none" stroke={RED} {...crisp} />
    <T x={1563} y={41} text="柱" fill={GRAY} anchor="middle" />
    <T x={1588} y={41} text="笔" fill={GRAY} anchor="middle" />
    <H x1={1098} x2={1600} y={344.5} />
  </>
);

export default function App() {
  return (
    <svg width={1600} height={900} viewBox="0 0 1600 900" style={{ position: "fixed", left: 0, top: 0, background: "#000" }}>
      <rect width={1600} height={900} fill="#000" />
      <MainChart />
      <VolumePanel />
      <FlowPanel />
      <HoldPanel line={mainHold} tip={mainTip} y={yMain} upColor={RED} downColor={CYAN} stick={1} ticks={mainTicks} />
      <HoldPanel line={retailHold} tip={retailTip} y={yRetail} upColor={RED} downColor={GREEN} stick={3} ticks={retailTicks} />
      <ActivePanel />
      <StudyPanel />
      {[299.5, 404.5, 508.5, 582.5, 659.5, 766.5, 880.5].map((y) => <H key={y} x1={0} x2={1099} y={y} />)}
      <V x={70.5} y1={0} y2={880} />
      <V x={1099.5} y1={0} y2={900} />
      <V x={1.5} y1={767} y2={880} />
      <LeftHeaders />
      <DateRow />
      <Header />
      <OrderPie />
      <OrderTable />
      <Intraday />
      <Monitor />
      <ShareStats />
    </svg>
  );
}
